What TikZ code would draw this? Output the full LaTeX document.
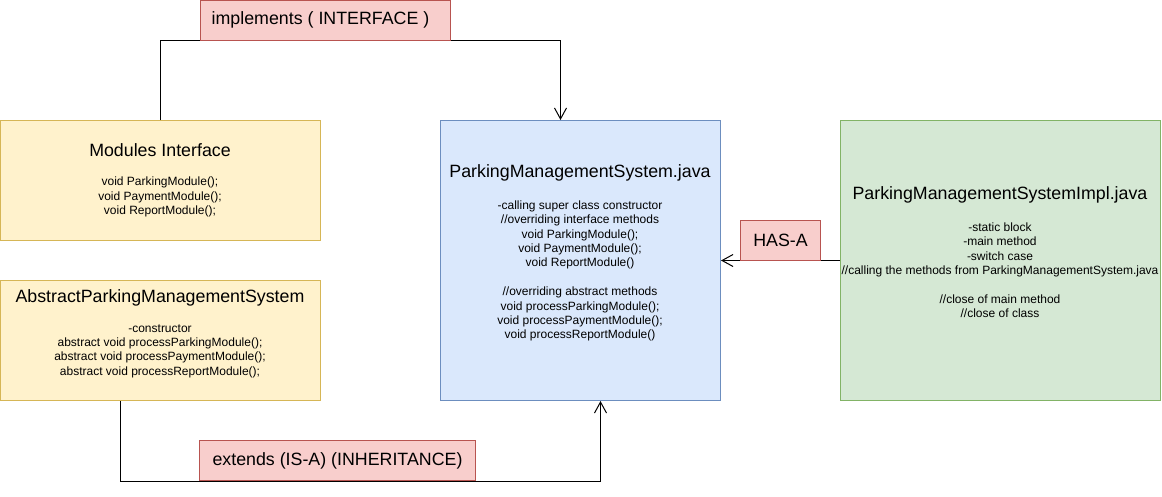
\documentclass[tikz,border=0pt]{standalone}
\usepackage{fontspec}
\setmainfont{Liberation Sans}
\usetikzlibrary{arrows.meta,calc}
\definecolor{yfill}{HTML}{FFF2CC}
\definecolor{ydraw}{HTML}{D6B656}
\definecolor{bfill}{HTML}{DAE8FC}
\definecolor{bdraw}{HTML}{6C8EBF}
\definecolor{gfill}{HTML}{D5E8D4}
\definecolor{gdraw}{HTML}{82B366}
\definecolor{rfill}{HTML}{F8CECC}
\definecolor{rdraw}{HTML}{B85450}
\tikzset{
  box/.style={rectangle, draw, line width=1pt, inner sep=0pt, anchor=north west},
  ybox/.style={box, fill=yfill, draw=ydraw},
  bbox/.style={box, fill=bfill, draw=bdraw},
  gbox/.style={box, fill=gfill, draw=gdraw},
  rbox/.style={box, fill=rfill, draw=rdraw, font=\fontsize{17.8}{21}\selectfont},
  title/.style={inner sep=0pt, font=\fontsize{17.8}{21}\selectfont},
  body/.style={inner sep=0pt, align=center, font=\fontsize{12}{14.4}\selectfont},
  conn/.style={line width=1pt, draw=black},
  arr/.style={conn, -{Straight Barb[length=11pt,width=12pt,line width=1pt]}},
}
\begin{document}
\begin{tikzpicture}[x=1pt,y=-1pt]
\useasboundingbox (0,0) rectangle (1162,496);
% boxes
\node[ybox, minimum width=320pt, minimum height=120pt] (mi) at (0,120) {};
\node[ybox, minimum width=320pt, minimum height=120pt] (ap) at (0,280) {};
\node[bbox, minimum width=280pt, minimum height=280pt] (pms) at (440,120) {};
\node[gbox, minimum width=320pt, minimum height=280pt] (impl) at (840,120) {};
% texts
\node[title] (mit) at (160,150.5) {Modules Interface};
\node[body] (mib) at (160,197) {void ParkingModule();\\void PaymentModule();\\void ReportModule();};
\node[title] (apt) at (160,298) {AbstractParkingManagementSystem};
\node[body] (apb) at (160,351) {-constructor\\abstract void processParkingModule();\\abstract void processPaymentModule();\\abstract void processReportModule();};
\node[title] (pmst) at (580,173) {ParkingManagementSystem.java};
\node[body] (pmsb) at (580,271) {-calling super class constructor\\//overriding interface methods\\void ParkingModule();\\void PaymentModule();\\void ReportModule()\\[14.4pt]//overriding abstract methods\\void processParkingModule();\\void processPaymentModule();\\void processReportModule()};
\node[title] (implt) at (1000,195) {ParkingManagementSystemImpl.java};
\node[body] (implb) at (1000,270.5) {-static block\\-main method\\-switch case\\//calling the methods from ParkingManagementSystem.java\\[14.4pt]//close of main method\\//close of class};
% connectors
\draw[arr] (mi.north) -- ++(0,-80) -| ($(pms.north)+(-20,0)$);
\draw[arr] ($(ap.south)+(-40,0)$) -- ++(0,80) -| ($(pms.south)+(20,0)$);
\draw[arr] (impl.west) -- (pms.east);
% labels
\node[rbox, minimum width=250pt, minimum height=40pt] (impl1) at (200,0) {};
\node[title] (impl1t) at (320.5,20) {implements ( INTERFACE )};
\node[rbox, minimum width=276pt, minimum height=40pt] (ext) at (199,440) {extends (IS-A) (INHERITANCE)};
\node[rbox, minimum width=80pt, minimum height=40pt] (hasa) at (740,220) {HAS-A};
\end{tikzpicture}
\end{document}
